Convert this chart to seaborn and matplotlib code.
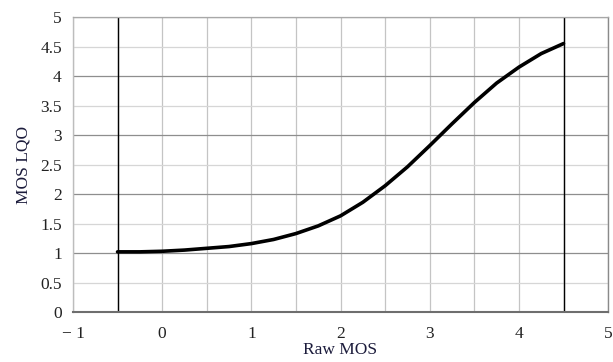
import numpy as np
import pandas as pd
import matplotlib
matplotlib.use("Agg")
import matplotlib.pyplot as plt
import seaborn as sns
from matplotlib.ticker import MultipleLocator

# values
raw_mos = [-0.5, -0.25, 0.0, 0.25, 0.5, 0.75, 1.0, 1.25, 1.5, 1.75, 2.0,
           2.25, 2.5, 2.75, 3.0, 3.25, 3.5, 3.75, 4.0, 4.25, 4.5]
mos_lqo = [1.02, 1.02, 1.03, 1.05, 1.08, 1.11, 1.16, 1.23, 1.33, 1.46, 1.63,
           1.86, 2.14, 2.46, 2.82, 3.19, 3.55, 3.88, 4.15, 4.38, 4.55]
x_ticks = [-1, 0, 1, 2, 3, 4, 5]
x_tick_labels = ["\u2212 1", "0", "1", "2", "3", "4", "5"]
y_major = [0, 1, 2, 3, 4, 5]
y_major_labels = ["0", "1", "2", "3", "4", "5"]
y_minor = [0.5, 1.5, 2.5, 3.5, 4.5]
y_minor_labels = ["0.5", "1.5", "2.5", "3.5", "4.5"]
range_limits = [-0.5, 4.5]

df = pd.DataFrame({"Raw MOS": raw_mos, "MOS LQO": mos_lqo})

sns.set_theme(style="white")
plt.rcParams["font.family"] = ["Liberation Serif", "DejaVu Serif"]

fig = plt.figure(figsize=(6.13, 3.62), dpi=100)
ax = fig.add_axes([0.119, 0.138, 0.873, 0.815])

ax.set_xlim(-1, 5)
ax.set_ylim(0, 5)
ax.set_xticks(x_ticks)
ax.set_xticklabels(x_tick_labels)
ax.xaxis.set_minor_locator(MultipleLocator(0.5))
ax.set_yticks(y_major)
ax.set_yticklabels(y_major_labels)
ax.set_yticks(y_minor, minor=True)
ax.set_yticklabels(y_minor_labels, minor=True)

# grid: vertical lines uniform, horizontal integers darker than halves
ax.grid(which="both", axis="x", color="#c4c4c4", linewidth=0.9)
ax.grid(which="minor", axis="y", color="#d6d6d6", linewidth=0.9)
ax.grid(which="major", axis="y", color="#8e8e8e", linewidth=0.9)
ax.set_axisbelow(True)

for lim in range_limits:
    ax.axvline(lim, color="black", linewidth=1.0, zorder=2)

line = sns.lineplot(data=df, x="Raw MOS", y="MOS LQO", color="black",
                    linewidth=2.6, ax=ax, zorder=3)
for ln in ax.get_lines():
    ln.set_solid_joinstyle("round")

ax.tick_params(axis="both", which="both", labelsize=12.5, labelcolor="#222222",
               color="#8e8e8e", width=0.8, direction="out")
ax.tick_params(axis="x", which="major", length=3, pad=7)
ax.tick_params(axis="x", which="minor", length=0)
ax.tick_params(axis="y", which="both", length=4, pad=4)

ax.spines["left"].set_color("#bdbdbd")
ax.spines["left"].set_linewidth(1.0)
ax.spines["bottom"].set_color("#6e6e6e")
ax.spines["bottom"].set_linewidth(1.5)
ax.spines["top"].set_color("#a8a8a8")
ax.spines["top"].set_linewidth(0.9)
ax.spines["right"].set_color("#8a8a8a")
ax.spines["right"].set_linewidth(1.0)

ax.set_xlabel("Raw MOS", fontsize=12.5, color="#1c1c3c", labelpad=0)
ax.set_ylabel("MOS LQO", fontsize=12.5, color="#1c1c3c", labelpad=6)

plt.savefig("out.png", dpi=100)
